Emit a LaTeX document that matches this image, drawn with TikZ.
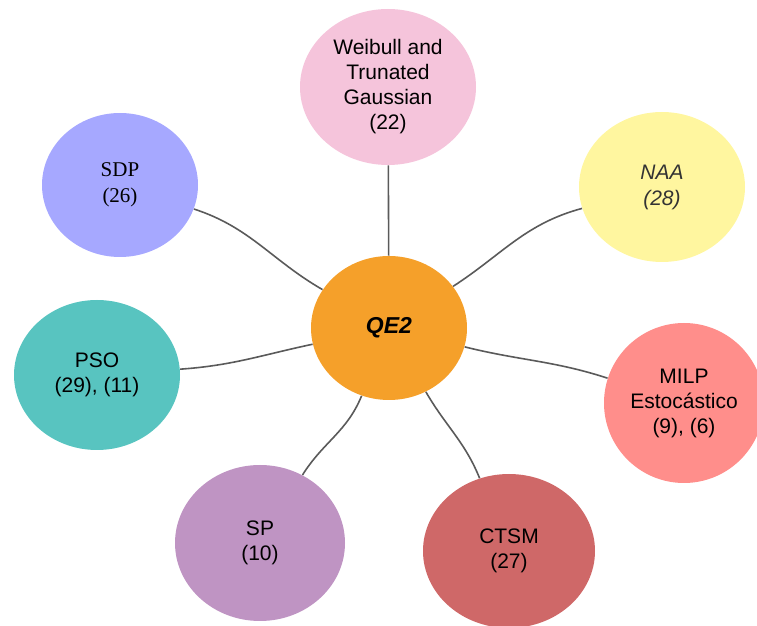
\documentclass[tikz,border=0pt]{standalone}
\usepackage{fontspec}
\setmainfont{Liberation Sans}
\newfontfamily\sdpfont{Liberation Serif}
\usetikzlibrary{shapes.geometric}
\usepackage{xcolor}

\definecolor{qeorange}{HTML}{F5A02A}
\definecolor{pinkbub}{HTML}{F5C4DB}
\definecolor{sdpblue}{HTML}{A6A8FF}
\definecolor{naayellow}{HTML}{FFF69F}
\definecolor{psoteal}{HTML}{58C4C0}
\definecolor{milpred}{HTML}{FF8E8B}
\definecolor{spviolet}{HTML}{BF94C3}
\definecolor{ctsmred}{HTML}{CF6868}
\definecolor{linkgray}{HTML}{5A5A5A}

\begin{document}
\begin{tikzpicture}[
    x=0.5pt, y=0.5pt,
    bubble/.style={ellipse, inner sep=1pt, align=center, font=\fontsize{10.5}{12.5}\selectfont, text=black},
    link/.style={draw=linkgray, line width=0.8pt}
]
\useasboundingbox (0,0) rectangle (757,-626);

% Centre
\node[bubble, fill=qeorange, minimum width=78pt, minimum height=72pt,
      font=\fontsize{11.5}{13}\selectfont\bfseries\itshape] (qe) at (389,-328) {QE2};

% Surrounding bubbles
\node[bubble, fill=pinkbub, minimum width=88pt, minimum height=78pt] (weib) at (388,-87)
    {Weibull and\\Trunated\\Gaussian\\(22)};
\node[bubble, fill=sdpblue, minimum width=78pt, minimum height=72pt,
      font=\sdpfont\fontsize{10.5}{13}\selectfont] (sdp) at (120,-185) {SDP\\(26)};
\node[bubble, fill=naayellow, minimum width=83pt, minimum height=75pt,
      font=\fontsize{10.5}{13}\selectfont\itshape, text=black!80] (naa) at (662,-187) {NAA\\(28)};
\node[bubble, fill=psoteal, minimum width=83pt, minimum height=75pt] (pso) at (97,-375)
    {PSO\\(29), (11)};
\node[bubble, fill=milpred, minimum width=80pt, minimum height=80pt] (milp) at (684,-403)
    {MILP\\Estocástico\\(9), (6)};
\node[bubble, fill=spviolet, minimum width=85pt, minimum height=78pt] (sp) at (260,-543)
    {SP\\(10)};
\node[bubble, fill=ctsmred, minimum width=86pt, minimum height=77pt] (ctsm) at (509,-551)
    {CTSM\\(27)};

% Links
\draw[link] (qe) -- (weib);
\draw[link] (qe) to[out=150, in=-18] (sdp);
\draw[link] (qe) to[out=33, in=195] (naa);
\draw[link] (qe) to[out=192, in=4] (pso);
\draw[link] (qe) to[out=-14, in=162] (milp);
\draw[link] (qe) to[out=248, in=58] (sp);
\draw[link] (qe) to[out=-60, in=112] (ctsm);

\end{tikzpicture}
\end{document}
